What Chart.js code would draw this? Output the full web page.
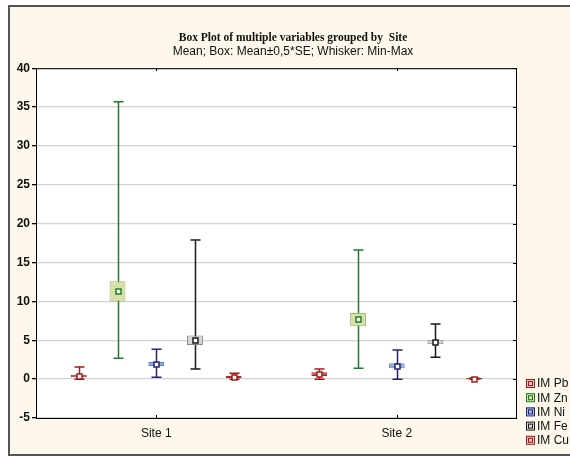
<!DOCTYPE html>
<html>
<head>
<meta charset="utf-8">
<script src="https://cdn.jsdelivr.net/npm/chart.js@4.4.1/dist/chart.umd.min.js"></script>
<style>
  html, body { margin: 0; padding: 0; background: #fff; }
  #wrap { width: 570px; height: 456px; }
</style>
</head>
<body>
<div id="wrap"><canvas id="boxChart" width="570" height="456"></canvas></div>
<script>
// categories and series
var sites = ['Site 1', 'Site 2'];
var names = ['IM Pb', 'IM Zn', 'IM Ni', 'IM Fe', 'IM Cu'];
var yTicks = [-5, 0, 5, 10, 15, 20, 25, 30, 35, 40];

// per site: [min, mean-0.5SE, mean, mean+0.5SE, max]
var pb = [[0.0, 0.25, 0.4, 0.55, 1.55], [0.0, 0.4, 0.65, 0.9, 1.3]];
var zn = [[2.7, 10.0, 11.3, 12.6, 35.7], [1.4, 6.8, 7.7, 8.5, 16.6]];
var ni = [[0.25, 1.7, 1.9, 2.2, 3.85], [0.0, 1.4, 1.7, 2.05, 3.75]];
var fe = [[1.3, 4.4, 5.0, 5.6, 17.9], [2.8, 4.5, 4.75, 5.0, 7.1]];
var cu = [[0.0, 0.15, 0.25, 0.4, 0.75], [0.0, -0.05, 0.05, 0.15, 0.15]];

var stats = [pb, zn, ni, fe, cu];
var lineColors = ['#a01c1c', '#1f7d2a', '#22226e', '#1a1a1a', '#a01c1c'];
var boxFills = ['#c8463e', '#d5e1a6', '#8ea8da', '#d6d6d6', '#c8463e'];
var boxEdges = ['#a82a26', '#a3b472', '#5f80c0', '#858585', '#a82a26'];
var legendFills = ['#ecc2bc', '#d5e1a6', '#a9c0e6', '#d9d9d9', '#ecc2bc'];

function boxData(s) {               // floating bar = box
  return s.map(function (r) { return [r[1], r[3]]; });
}

var datasets = names.map(function (n, k) {
  return {
    label: n,
    data: boxData(stats[k]),
    backgroundColor: boxFills[k],
    borderColor: boxEdges[k],
    borderWidth: 1,
    borderSkipped: false,
    categoryPercentage: 0.805,
    barPercentage: 0.41
  };
});

var framePlugin = {                  // background, outer frame, whiskers, legend
  id: 'frame',
  beforeDraw: function (chart) {
    var c = chart.ctx, a = chart.chartArea;
    c.save();
    c.fillStyle = '#ffffff';
    c.fillRect(0, 0, chart.width, chart.height);
    c.fillStyle = '#fdf8eb';
    c.fillRect(9, 6, chart.width, chart.height);
    c.strokeStyle = '#555555';
    c.lineWidth = 2;
    c.strokeRect(9, 6, chart.width + 10, chart.height - 7);
    c.fillStyle = '#ffffff';
    c.fillRect(a.left, a.top, a.right - a.left, a.bottom - a.top);
    c.restore();
  },
  beforeDatasetsDraw: function (chart) {
    var c = chart.ctx, y = chart.scales.y;
    c.save();
    chart.data.datasets.forEach(function (ds, k) {
      var meta = chart.getDatasetMeta(k);
      meta.data.forEach(function (bar, i) {
        var r = stats[k][i];
        var x = Math.round(bar.x) + 0.5;
        var yMin = y.getPixelForValue(r[0]), yMax = y.getPixelForValue(r[4]);
        c.strokeStyle = lineColors[k];
        c.lineWidth = 1.5;
        c.beginPath();
        c.moveTo(x, yMin); c.lineTo(x, yMax);
        c.moveTo(x - 5, yMin); c.lineTo(x + 5, yMin);
        c.moveTo(x - 5, yMax); c.lineTo(x + 5, yMax);
        c.stroke();
      });
    });
    c.restore();
  },
  afterDatasetsDraw: function (chart) {
    var c = chart.ctx, y = chart.scales.y, x = chart.scales.x, a = chart.chartArea;
    c.save();
    chart.data.datasets.forEach(function (ds, k) {
      var meta = chart.getDatasetMeta(k);
      meta.data.forEach(function (bar, i) {
        var px = Math.round(bar.x) + 0.5;
        var py = Math.round(y.getPixelForValue(stats[k][i][2])) + 0.5;
        c.fillStyle = '#ffffff';
        c.strokeStyle = lineColors[k];
        c.lineWidth = 1.5;
        c.fillRect(px - 2.5, py - 2.5, 5, 5);
        c.strokeRect(px - 2.5, py - 2.5, 5, 5);
      });
    });
    // plot frame and inner ticks
    c.strokeStyle = '#000000';
    c.lineWidth = 1;
    c.strokeRect(a.left + 0.5, a.top + 0.5, a.right - a.left - 1, a.bottom - a.top);
    c.beginPath();
    yTicks.forEach(function (v) {
      var py = Math.round(y.getPixelForValue(v)) + 0.5;
      c.moveTo(a.right - 4, py); c.lineTo(a.right, py);
    });
    sites.forEach(function (s, i) {
      var px = Math.round(x.getPixelForValue(i)) + 0.5;
      c.moveTo(px, a.top); c.lineTo(px, a.top + 3);
      c.moveTo(px, a.bottom); c.lineTo(px, a.bottom - 3);
    });
    c.stroke();
    // legend
    c.font = '12px "Liberation Sans", Arial, sans-serif';
    c.textBaseline = 'middle';
    names.forEach(function (n, k) {
      var ly = 383 + k * 14.2;
      c.fillStyle = legendFills[k];
      c.fillRect(526, ly - 4, 8, 8);
      c.strokeStyle = lineColors[k];
      c.lineWidth = 1;
      c.strokeRect(526.5, ly - 3.5, 8, 8);
      c.strokeRect(528.5, ly - 1.5, 4, 4);
      c.fillStyle = '#111111';
      c.fillText(n, 537, ly + 1);
    });
    c.restore();
  }
};

var chart = new Chart(document.getElementById('boxChart').getContext('2d'), {
  type: 'bar',
  data: { labels: sites, datasets: datasets },
  plugins: [framePlugin],
  options: {
    responsive: false,
    animation: false,
    layout: { padding: { left: 16, right: 0, top: 31, bottom: 0 } },
    plugins: {
      legend: { display: false },
      tooltip: { enabled: false },
      title: {
        display: true,
        text: 'Box Plot of multiple variables grouped by  Site',
        color: '#111111',
        font: { family: '"Liberation Serif", "Times New Roman", serif', size: 11.5, weight: 'bold' },
        padding: { top: 0, bottom: 0 }
      },
      subtitle: {
        display: true,
        text: 'Mean; Box: Mean\u00b10,5*SE; Whisker: Min-Max',
        color: '#111111',
        font: { family: '"Liberation Sans", Arial, sans-serif', size: 12 },
        padding: { top: 0, bottom: 9 }
      }
    },
    scales: {
      x: {
        grid: { display: false, drawTicks: false },
        border: { display: false },
        ticks: { color: '#111111', padding: 8, font: { family: '"Liberation Sans", Arial, sans-serif', size: 12 } },
        afterFit: function (s) { s.height = 38; }
      },
      y: {
        min: -5, max: 40,
        afterBuildTicks: function (s) { s.ticks = yTicks.map(function (v) { return { value: v }; }); },
        grid: { color: '#d2d2d2', lineWidth: 1.3, tickLength: 4, tickColor: '#000000' },
        border: { display: false },
        ticks: { color: '#111111', padding: 2, font: { family: '"Liberation Sans", Arial, sans-serif', size: 12, weight: 'bold' } },
        afterFit: function (s) { s.width = 20; }
      },
      y2: {
        position: 'right',
        min: -5, max: 40,
        grid: { display: false, drawTicks: false },
        border: { display: false },
        ticks: { display: false },
        afterFit: function (s) { s.width = 53; }
      }
    }
  }
});
</script>
</body>
</html>
